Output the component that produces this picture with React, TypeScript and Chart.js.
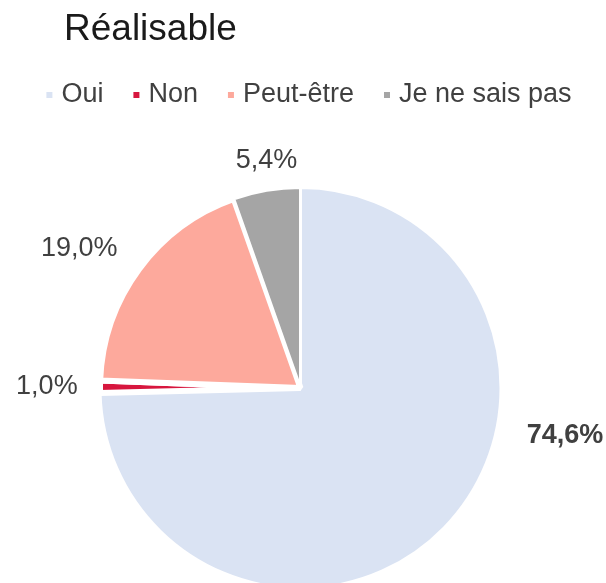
import React, { useEffect, useRef } from 'react';
import { Chart, registerables } from 'chart.js';

Chart.register(...registerables);

const chartTitle = 'Réalisable';
const categories = ['Oui', 'Non', 'Peut-être', 'Je ne sais pas'];
const values = [74.6, 1.0, 19.0, 5.4];
const valueLabels = ['74,6%', '1,0%', '19,0%', '5,4%'];

const sliceColors = ['#DAE3F3', '#D7163E', '#FDA99C', '#A5A5A5'];
const sliceBorders = [3, 6, 6, 3];
const FONT = '"Liberation Sans", Arial, sans-serif';
const TEXT_COLOR = '#404040';

// Label placement relative to pie centre: canvas angle (deg) and distance as a factor of the radius
const labelPlacement = [
  { angle: 10.2, dist: 1.34, bold: true },
  { angle: 180.3, dist: 1.265, bold: false },
  { angle: 212.3, dist: 1.305, bold: false },
  { angle: 261.5, dist: 1.145, bold: false },
];

const textPlugin = {
  id: 'textPlugin',
  afterDatasetsDraw(chart: any) {
    const ctx = chart.ctx as CanvasRenderingContext2D;
    const meta = chart.getDatasetMeta(0);
    const arc0 = meta.data[0] as any;
    const { x: cx, y: cy, outerRadius } = arc0.getProps(['x', 'y', 'outerRadius'], true);
    ctx.save();
    // data labels
    labelPlacement.forEach((p, i) => {
      const a = (p.angle * Math.PI) / 180;
      ctx.font = `${p.bold ? 'bold ' : ''}27px ${FONT}`;
      ctx.fillStyle = TEXT_COLOR;
      ctx.textAlign = 'center';
      ctx.textBaseline = 'middle';
      ctx.fillText(
        valueLabels[i],
        cx + Math.cos(a) * outerRadius * p.dist,
        cy + Math.sin(a) * outerRadius * p.dist
      );
    });
    // title
    ctx.font = `37px ${FONT}`;
    ctx.fillStyle = '#1a1a1a';
    ctx.textAlign = 'left';
    ctx.textBaseline = 'middle';
    ctx.fillText(chartTitle, 64, 30);
    // legend
    ctx.font = `27px ${FONT}`;
    const box = 6;
    const gap = 9;
    const spacing = 30;
    const widths = categories.map((c) => ctx.measureText(c).width);
    const total = widths.reduce((s, w) => s + box + gap + w, 0) + spacing * (categories.length - 1);
    let x = 309 - total / 2;
    const ly = 95;
    categories.forEach((c, i) => {
      ctx.fillStyle = sliceColors[i];
      ctx.fillRect(x, ly - box / 2, box, box);
      ctx.fillStyle = TEXT_COLOR;
      ctx.textAlign = 'left';
      ctx.fillText(c, x + box + gap, ly);
      x += box + gap + widths[i] + spacing;
    });
    ctx.restore();
  },
};

export default function App() {
  const ref = useRef<HTMLCanvasElement>(null);
  useEffect(() => {
    if (!ref.current) return;
    const chart = new Chart(ref.current, {
      type: 'pie',
      data: {
        labels: categories,
        datasets: [
          {
            data: values,
            backgroundColor: sliceColors,
            borderColor: '#ffffff',
            borderWidth: sliceBorders,
            radius: 200.5,
          } as any,
        ],
      },
      options: {
        animation: false,
        responsive: false,
        layout: { padding: { top: 193, bottom: 0, left: 0, right: 5 } },
        plugins: {
          legend: { display: false },
          tooltip: { enabled: false },
          title: { display: false },
        },
      },
      plugins: [textPlugin],
    });
    return () => chart.destroy();
  }, []);
  return (
    <div style={{ position: 'absolute', left: 0, top: 0, width: 606, height: 583, background: '#fff' }}>
      <canvas ref={ref} width={606} height={583} />
    </div>
  );
}
